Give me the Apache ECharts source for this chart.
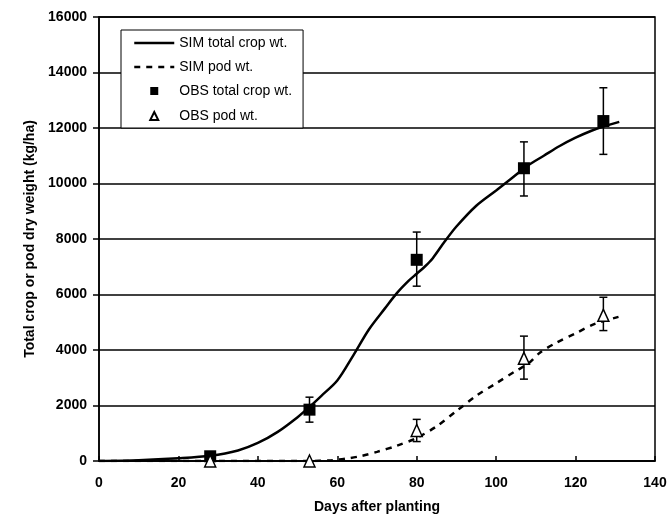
<!DOCTYPE html>
<html><head><meta charset="utf-8">
<script src="https://cdn.jsdelivr.net/npm/echarts@6/dist/echarts.min.js"></script>
<style>html,body{margin:0;padding:0;background:#fff}#c{width:670px;height:521px}</style>
</head><body><div id="c"></div>
<script>
// SIM curves: [day, kg/ha]
const simTotal = [[0,0],[10,30],[20,100],[28,190],[35,380],[40,650],[45,1050],[50,1580],[53,1950],[56,2350],[60,2900],[64,3800],[68,4750],[72,5500],[75,6050],[78,6500],[80,6750],[82,7000],[84,7300],[87,7900],[90,8450],[95,9200],[100,9750],[104,10200],[108,10650],[112,11000],[116,11350],[120,11650],[124,11900],[127,12050],[131,12220]];
const simPod = [[0,0],[28,0],[53,0],[58,20],[62,80],[66,180],[70,330],[75,550],[80,830],[85,1250],[90,1800],[95,2350],[100,2800],[105,3250],[108,3500],[111,3900],[115,4250],[120,4600],[125,4950],[131,5200]];
// observations: [day, value]
const obsTotal = [[28,170],[53,1850],[80,7250],[107,10550],[127,12250]];
const obsPod = [[28,0],[53,0],[80,1100],[107,3700],[127,5250]];
// error bars: [day, low, high]
const errTotal = [[53,1400,2300],[80,6300,8250],[107,9550,11500],[127,11050,13450]];
const errPod = [[80,700,1500],[107,2950,4500],[127,4700,5900]];
const xTicks = [0,20,40,60,80,100,120,140];
const yTicks = [0,2000,4000,6000,8000,10000,12000,14000,16000];

const font = 'Liberation Sans';
function errRender(params, api) {
  const x = api.value(0), lo = api.value(1), hi = api.value(2);
  const p1 = api.coord([x, lo]), p2 = api.coord([x, hi]);
  const c = 4;
  const st = {stroke:'#000', lineWidth:1.5};
  return {type:'group', children:[
    {type:'line', shape:{x1:p1[0],y1:p1[1],x2:p2[0],y2:p2[1]}, style:st},
    {type:'line', shape:{x1:p1[0]-c,y1:p1[1],x2:p1[0]+c,y2:p1[1]}, style:st},
    {type:'line', shape:{x1:p2[0]-c,y1:p2[1],x2:p2[0]+c,y2:p2[1]}, style:st}
  ]};
}
const chart = echarts.init(document.getElementById('c'));
chart.setOption({
  animation:false,
  backgroundColor:'#fff',
  textStyle:{fontFamily:font},
  grid:{left:99,right:15,top:17,bottom:60,show:true,borderColor:'#000',borderWidth:1.5},
  legend:{
    orient:'vertical', left:121, top:30, itemGap:10,
    itemWidth:40, itemHeight:14,
    padding:[6,11,4,12],
    borderColor:'#000', borderWidth:1, backgroundColor:'#fff',
    textStyle:{fontFamily:font, fontSize:14, color:'#000'},
    data:[
      {name:'SIM total crop wt.', itemStyle:{opacity:0}, lineStyle:{width:2.5}},
      {name:'SIM pod wt.', itemStyle:{opacity:0}, lineStyle:{width:2.5}},
      {name:'OBS total crop wt.', icon:'path://M0,0M14,14M3,3L11,3L11,11L3,11Z'},
      {name:'OBS pod wt.', icon:'path://M0,0M14,14M7,3L11,11L3,11Z'}
    ]
  },
  xAxis:{
    type:'value', min:0, max:140, interval:20,
    name:'Days after planting', nameLocation:'middle', nameGap:39,
    nameTextStyle:{fontFamily:font, fontWeight:'bold', fontSize:14, color:'#000'},
    axisLine:{lineStyle:{color:'#000', width:1.5}},
    axisTick:{inside:true, length:5, lineStyle:{color:'#000', width:1.5}},
    axisLabel:{fontFamily:font, fontWeight:'bold', fontSize:14, color:'#000', margin:15,
      formatter:v=>xTicks.includes(v)?String(v):''},
    splitLine:{show:false}
  },
  yAxis:{
    type:'value', min:0, max:16000, interval:2000,
    name:'Total crop or pod dry weight (kg/ha)', nameLocation:'middle', nameGap:62, nameRotate:90,
    nameTextStyle:{fontFamily:font, fontWeight:'bold', fontSize:14, color:'#000'},
    axisLine:{lineStyle:{color:'#000', width:1.5}},
    axisTick:{length:6, lineStyle:{color:'#000', width:1.5}},
    axisLabel:{fontFamily:font, fontWeight:'bold', fontSize:14, color:'#000', margin:12,
      formatter:v=>yTicks.includes(v)?String(v):''},
    splitLine:{show:true, lineStyle:{color:'#000', width:1.5}}
  },
  series:[
    {name:'SIM total crop wt.', type:'line', data:simTotal, smooth:0.3, showSymbol:false, symbol:'none',
      lineStyle:{color:'#000', width:2.5}, itemStyle:{color:'#000'}, z:3},
    {name:'SIM pod wt.', type:'line', data:simPod, smooth:0.3, showSymbol:false, symbol:'none',
      lineStyle:{color:'#000', width:2.5, type:[6,6]}, itemStyle:{color:'#000'}, z:3},
    {type:'custom', renderItem:errRender, data:errTotal, z:4, silent:true},
    {type:'custom', renderItem:errRender, data:errPod, z:4, silent:true},
    {name:'OBS total crop wt.', type:'scatter', data:obsTotal, symbol:'rect', symbolSize:12,
      itemStyle:{color:'#000', opacity:1}, z:5},
    {name:'OBS pod wt.', type:'scatter', data:obsPod, symbol:'triangle', symbolSize:[11,12],
      itemStyle:{color:'#fff', borderColor:'#000', borderWidth:1.5, opacity:1}, z:5}
  ]
});
</script></body></html>
